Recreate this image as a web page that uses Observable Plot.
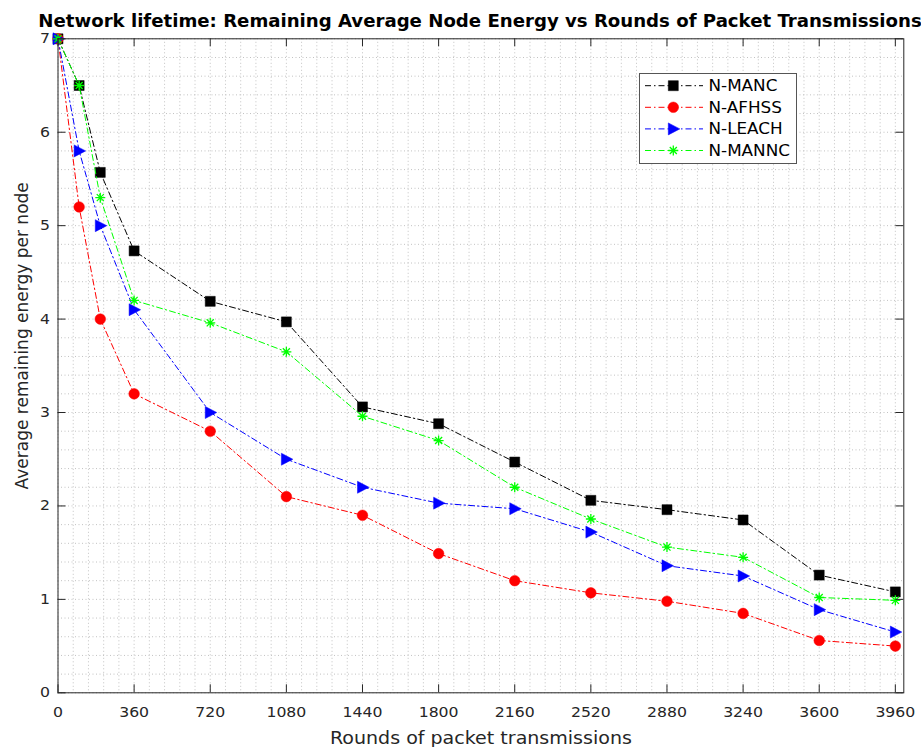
<!DOCTYPE html>
<html>
<head>
<meta charset="utf-8">
<script src="https://cdn.jsdelivr.net/npm/d3@7"></script>
<script src="https://cdn.jsdelivr.net/npm/@observablehq/plot@0.6"></script>
<style>
  body { margin: 0; background: #fff; }
  #wrap { position: relative; width: 921px; height: 747px; overflow: hidden; background: #fff; }
  #title { position: relative; height: 30px; width: 921px; }
  #title span { position: absolute; left: 480.4px; top: 13px; white-space: nowrap;
    font: bold 17px "DejaVu Sans", sans-serif; line-height: 17px; color: #000;
    transform: translateX(-50%) scaleX(1.066); transform-origin: center; }
  #legend { position: absolute; left: 639px; top: 73px; }
</style>
</head>
<body>
<div id="wrap">
  <div id="title"><span>Network lifetime: Remaining Average Node Energy vs Rounds of Packet Transmissions</span></div>
  <div id="chart"></div>
  <div id="legend"></div>
</div>
<script>
// ---- data ----
const rounds = [0, 100, 200, 360, 720, 1080, 1440, 1800, 2160, 2520, 2880, 3240, 3600, 3960];
const mancEnergy  = [7, 6.50, 5.57, 4.73, 4.19, 3.97, 3.06, 2.88, 2.47, 2.06, 1.96, 1.85, 1.26, 1.08];
const afhssEnergy = [7, 5.20, 4.00, 3.20, 2.80, 2.10, 1.90, 1.49, 1.20, 1.07, 0.98, 0.85, 0.56, 0.50];
const leachEnergy = [7, 5.80, 5.00, 4.10, 3.00, 2.50, 2.20, 2.03, 1.97, 1.72, 1.36, 1.25, 0.89, 0.65];
const manncEnergy = [7, 6.50, 5.30, 4.20, 3.96, 3.65, 2.96, 2.70, 2.20, 1.86, 1.56, 1.45, 1.02, 0.99];
const seriesNames  = ["N-MANC", "N-AFHSS", "N-LEACH", "N-MANNC"];
const seriesColors = ["#000000", "#ff0000", "#0000ff", "#00ff00"];
const xTicks = [0, 360, 720, 1080, 1440, 1800, 2160, 2520, 2880, 3240, 3600, 3960];
const yTicks = [0, 1, 2, 3, 4, 5, 6, 7];
const xMinorStep = 72;
const yMinorStep = 0.2;
const xLabel = "Rounds of packet transmissions";
const yLabel = "Average remaining energy per node";

// ---- markers ----
const symSquare = { draw(ctx, size) { const r = Math.sqrt(size / Math.PI);
  ctx.moveTo(-r, -r); ctx.lineTo(r, -r); ctx.lineTo(r, r); ctx.lineTo(-r, r); ctx.closePath(); } };
const symCircle = { draw(ctx, size) { const r = Math.sqrt(size / Math.PI);
  ctx.moveTo(r, 0); ctx.arc(0, 0, r, 0, 2 * Math.PI); } };
const symTriRight = { draw(ctx, size) { const r = Math.sqrt(size / Math.PI);
  ctx.moveTo(1.3 * r, 0); ctx.lineTo(-1.0 * r, -1.2 * r); ctx.lineTo(-1.0 * r, 1.2 * r); ctx.closePath(); } };
const symAsterisk = { draw(ctx, size) { const r = Math.sqrt(size / Math.PI); const d = r * 0.7071;
  ctx.moveTo(-r, 0); ctx.lineTo(r, 0); ctx.moveTo(0, -r); ctx.lineTo(0, r);
  ctx.moveTo(-d, -d); ctx.lineTo(d, d); ctx.moveTo(-d, d); ctx.lineTo(d, -d); } };
const seriesMarkers = [
  {symbol: symSquare, r: 5, fill: true},
  {symbol: symCircle, r: 5.3, fill: true},
  {symbol: symTriRight, r: 5, fill: true},
  {symbol: symAsterisk, r: 5, fill: false}
];
const allValues = [mancEnergy, afhssEnergy, leachEnergy, manncEnergy];
const table = seriesNames.flatMap((name, i) => rounds.map((x, j) => ({series: name, x, y: allValues[i][j]})));

// ---- layout ----
const W = 921, H = 717;
const mTop = 8.3, mBottom = 54.7, mLeft = 57.5, mRight = 17.7;
const innerW = W - mLeft - mRight, innerH = H - mTop - mBottom;
const tickLen = 8;
const STRETCH = 1.12;
const dash = "6,3,1.5,3";

const xMinor = d3.range(0, 4000 + 1e-9, xMinorStep);
const yMinor = d3.range(0, 7 + 1e-9, yMinorStep);
const gridStyle = {stroke: "#c2c2c2", strokeWidth: 1, strokeDasharray: "1,2.5"};

const marks = [
  Plot.ruleX(xMinor, {x: d => d, ...gridStyle}),
  Plot.ruleY(yMinor, {y: d => d, ...gridStyle}),
];
seriesNames.forEach((name, i) => {
  const data = table.filter(d => d.series === name);
  const mk = seriesMarkers[i];
  marks.push(Plot.line(data, {x: "x", y: "y", stroke: seriesColors[i], strokeWidth: 1, strokeDasharray: dash}));
  marks.push(Plot.dot(data, {x: "x", y: "y", symbol: mk.symbol, r: mk.r,
    fill: mk.fill ? seriesColors[i] : "none",
    stroke: seriesColors[i], strokeWidth: mk.fill ? 0.5 : 1.3}));
});
marks.push(
  Plot.frame({stroke: "#262626", strokeWidth: 1}),
  Plot.ruleX(xTicks, {x: d => d, insetTop: innerH - tickLen, stroke: "#262626"}),
  Plot.ruleX(xTicks, {x: d => d, insetBottom: innerH - tickLen, stroke: "#262626"}),
  Plot.ruleY(yTicks, {y: d => d, insetRight: innerW - tickLen, stroke: "#262626"}),
  Plot.ruleY(yTicks, {y: d => d, insetLeft: innerW - tickLen, stroke: "#262626"}),
  Plot.axisX({ticks: xTicks, tickSize: 0, tickPadding: 14, tickFormat: d => String(d), label: null, fill: "#262626"}),
  Plot.axisY({ticks: yTicks, tickSize: 0, tickPadding: 8, tickFormat: d => String(d), label: null, fill: "#262626"}),
  Plot.text([xLabel], {text: d => d, frameAnchor: "bottom", lineAnchor: "bottom", dy: 51, fontSize: 17, fill: "#262626"}),
  Plot.text([yLabel], {text: d => d, frameAnchor: "left", textAnchor: "middle", lineAnchor: "middle", rotate: -90, dx: -35, dy: -30, fontSize: 17, fill: "#262626", className: "ylabel"})
);

const chart = Plot.plot({
  width: W, height: H,
  marginTop: mTop, marginBottom: mBottom, marginLeft: mLeft, marginRight: mRight,
  x: {domain: [0, 4000]},
  y: {domain: [0, 7]},
  style: {fontFamily: "DejaVu Sans, sans-serif", fontSize: "14px", background: "#fff", overflow: "visible"},
  marks
});
document.getElementById("chart").appendChild(chart);

// ---- legend ----
const lg = d3.select("#legend").append("svg").attr("width", 158).attr("height", 91)
  .style("display", "block");
lg.append("rect").attr("x", 0.5).attr("y", 0.5).attr("width", 157).attr("height", 90)
  .attr("fill", "#fff").attr("stroke", "#555").attr("stroke-width", 1);
seriesNames.forEach((name, i) => {
  const cy = 12.7 + i * 21.6;
  const g = lg.append("g");
  g.append("line").attr("x1", 6).attr("x2", 64).attr("y1", cy).attr("y2", cy)
    .attr("stroke", seriesColors[i]).attr("stroke-width", 1).attr("stroke-dasharray", dash);
  const mk = seriesMarkers[i];
  const p = d3.path(); mk.symbol.draw(p, Math.PI * mk.r * mk.r);
  g.append("path").attr("d", p.toString()).attr("transform", `translate(34.3,${cy})`)
    .attr("fill", mk.fill ? seriesColors[i] : "none").attr("stroke", seriesColors[i])
    .attr("stroke-width", mk.fill ? 0.5 : 1.3);
  g.append("text").attr("x", 69.5).attr("y", cy).attr("dy", "0.36em")
    .attr("font-family", "DejaVu Sans, sans-serif").attr("font-size", 15).attr("fill", "#000").text(name);
});

// horizontal text stretch to mimic the reference's wide glyphs (not for the rotated y label)
document.querySelectorAll("#wrap svg text").forEach(t => {
  if (t.closest(".ylabel")) return;
  const len = t.getComputedTextLength();
  if (len > 0) { t.setAttribute("textLength", len * STRETCH); t.setAttribute("lengthAdjust", "spacingAndGlyphs"); }
});
</script>
</body>
</html>
